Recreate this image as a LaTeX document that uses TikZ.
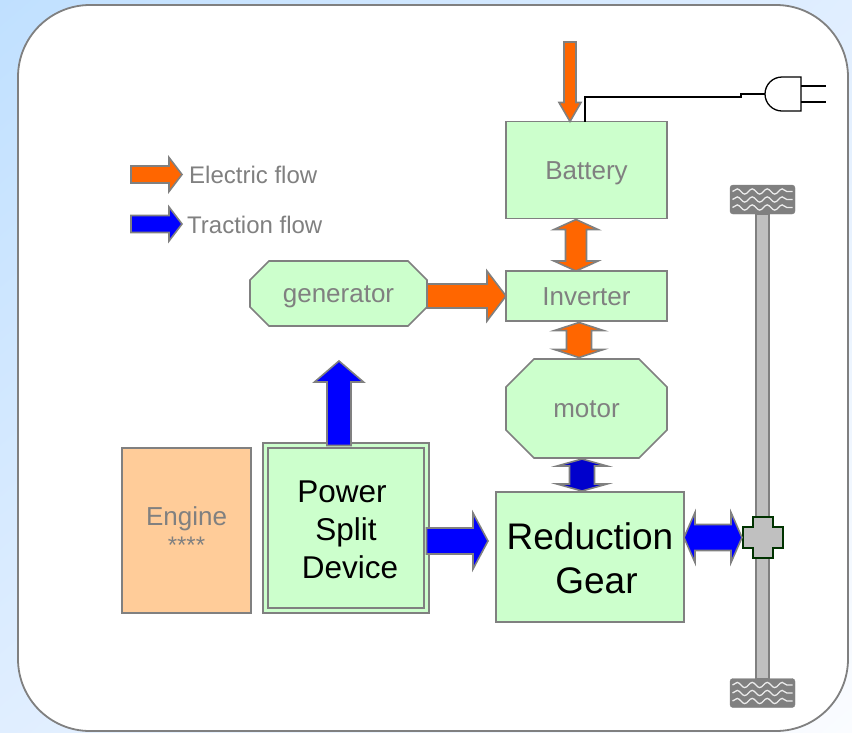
\documentclass[tikz,border=0pt]{standalone}
\usepackage{fontspec}
\setmainfont{Liberation Sans}
\usepackage{xcolor}
\usepackage{tikz}
\usetikzlibrary{calc}
\usetikzlibrary{shadings}
\usetikzlibrary{decorations.pathmorphing}

\definecolor{Mint}{HTML}{CCFFCC}
\definecolor{Peach}{HTML}{FFCC99}
\definecolor{Elec}{HTML}{FF6600}
\definecolor{Trac}{HTML}{0000FF}
\definecolor{TracDark}{HTML}{0000CC}
\definecolor{Edge}{HTML}{808080}
\definecolor{Steel}{HTML}{C0C0C0}
\definecolor{HubEdge}{HTML}{003300}
\definecolor{SkyA}{HTML}{C0E0FF}
\definecolor{SkyB}{HTML}{E0EEFF}
\definecolor{SkyC}{HTML}{FAFCFF}

\tikzset{
  textnode/.style={inner sep=0pt, outer sep=0pt, text=Edge, align=center, font=\fontsize{26}{31}\selectfont},
  boxnode/.style={textnode, draw=Edge, line width=1.6pt, fill=Mint},
  oneline/.style={text height=18pt, text depth=0pt},
  flowline/.style={draw=Edge, line width=1.6pt},
  legendtext/.style={text=Edge, anchor=west, inner sep=0pt, font=\fontsize{24}{28}\selectfont},
  cord/.style={draw=black, line width=1.3pt},
  wheelnode/.style={draw=Edge, fill=Edge, rounded corners=3pt, minimum width=65pt, minimum height=29pt, inner sep=0pt, outer sep=0pt},
  tread/.style={draw=white!85!Edge, line width=1.3pt, decorate, decoration={snake, segment length=15pt, amplitude=2.6pt}}
}

% colour, tail, tip, half shaft, half head, head length
\newcommand{\singleflow}[6]{
  \coordinate (hs) at ($(#3)!#6pt!(#2)$);
  \draw[flowline, fill=#1] ($(#2)!#4pt!90:(#3)$) -- ($(hs)!#4pt!90:(#3)$) -- ($(hs)!#5pt!90:(#3)$) -- (#3)
    -- ($(hs)!#5pt!-90:(#3)$) -- ($(hs)!#4pt!-90:(#3)$) -- ($(#2)!#4pt!-90:(#3)$) -- cycle;
}
% colour, tip, tip, half shaft, half head, head length
\newcommand{\doubleflow}[6]{
  \coordinate (ha) at ($(#2)!#6pt!(#3)$);
  \coordinate (hb) at ($(#3)!#6pt!(#2)$);
  \draw[flowline, fill=#1] (#2) -- ($(ha)!#5pt!90:(#3)$) -- ($(ha)!#4pt!90:(#3)$) -- ($(hb)!#4pt!90:(#3)$) -- ($(hb)!#5pt!90:(#3)$)
    -- (#3) -- ($(hb)!#5pt!-90:(#3)$) -- ($(hb)!#4pt!-90:(#3)$) -- ($(ha)!#4pt!-90:(#3)$) -- ($(ha)!#5pt!-90:(#3)$) -- cycle;
}
% name, centre, half width, half height, chamfer, text
\newcommand{\octnode}[6]{
  \draw[flowline, fill=Mint] ($(#2)+(-#3+#5,-#4)$) -- ($(#2)+(#3-#5,-#4)$) -- ($(#2)+(#3,-#4+#5)$) -- ($(#2)+(#3,#4-#5)$)
    -- ($(#2)+(#3-#5,#4)$) -- ($(#2)+(-#3+#5,#4)$) -- ($(#2)+(-#3,#4-#5)$) -- ($(#2)+(-#3,-#4+#5)$) -- cycle;
  \node[textnode, oneline, minimum width=2*#3 pt, minimum height=2*#4 pt] (#1) at (#2) {#6};
}

\begin{document}
\begin{tikzpicture}[x=1pt,y=-1pt]

  \useasboundingbox (0,0) rectangle (852,732);
  \shade[upper left=SkyA, upper right=SkyB, lower left=SkyB, lower right=SkyC] (0,0) rectangle (852,732);
  \draw[draw=Edge, line width=1.8pt, fill=white, rounded corners=72pt] (18,5) rectangle (848,731);

  %Box nodes
  \node[boxnode, oneline, minimum width=161pt, minimum height=97pt] (battery) at (586.5,170) {Battery};
  \node[boxnode, oneline, minimum width=161pt, minimum height=50pt] (inverter) at (586.5,296) {Inverter};
  \octnode{motor}{586.5,408.5}{80.5}{49.5}{28}{motor}
  \octnode{generator}{338.5,293.5}{88.5}{32.5}{19}{generator}
  \node[boxnode, fill=Peach, minimum width=129pt, minimum height=165pt] (engine) at (186.5,530.5) {Engine\\[-3pt]{\fontsize{24}{24}\selectfont ****}};
  \node[boxnode, double=Mint, double distance=3pt, minimum width=161pt, minimum height=165pt, text=black,
    font=\fontsize{31.5}{38}\selectfont] (psd) at (346,528) {\rule{0pt}{25.5pt}\hspace*{-8pt}Power\\Split\\\hspace*{8pt}Device};
  \node[boxnode, minimum width=188pt, minimum height=130pt, text=black,
    font=\fontsize{37}{44}\selectfont] (gear) at (590,557) {\rule{0pt}{29pt}Reduction\\\hspace*{13pt}Gear};

  %Legend
  \coordinate (elecA) at (131,174.5);
  \coordinate (elecB) at (182,174.5);
  \coordinate (tracA) at (131,224);
  \coordinate (tracB) at (182,224);
  \singleflow{Elec}{elecA}{elecB}{8.5}{17}{13}
  \singleflow{Trac}{tracA}{tracB}{8.5}{17}{13}
  \node[legendtext] (elecText) at (189,175) {Electric flow};
  \node[legendtext] (tracText) at (187,225) {Traction flow};

  %Axle and wheels
  \node[wheelnode] (wheelTop) at (762.5,199.5) {};
  \node[wheelnode] (wheelLow) at (762.5,693) {};
  \draw[flowline, fill=Steel] ([xshift=-6.5pt]wheelTop.south) rectangle ([xshift=6.5pt]wheelLow.north);
  \foreach \wheel in {wheelTop,wheelLow}
    \foreach \row in {-8,0,8}
      \draw[tread] ([xshift=-30pt,yshift=\row pt]\wheel.center) -- ([xshift=30pt,yshift=\row pt]\wheel.center);
  \coordinate (hub) at (763,537.5);
  \draw[draw=HubEdge, line width=1.6pt, fill=Steel] (hub) ++(-10,-20.5) -- ++(20,0) -- ++(0,10) -- ++(10,0) -- ++(0,21)
    -- ++(-10,0) -- ++(0,10) -- ++(-20,0) -- ++(0,-10) -- ++(-10,0) -- ++(0,-21) -- ++(10,0) -- cycle;

  %Flows
  \coordinate (chargeTop) at (570,42);
  \coordinate (chargeTip) at (chargeTop |- battery.north);
  \singleflow{Elec}{chargeTop}{chargeTip}{6}{11}{19}

  \coordinate (batLow) at ([xshift=-10.5pt,yshift=-1pt]battery.south);
  \coordinate (invTop) at ([xshift=-10.5pt]inverter.north);
  \doubleflow{Elec}{batLow}{invTop}{10.5}{22}{10}

  \coordinate (invLow) at ([xshift=-7.5pt,yshift=-1.5pt]inverter.south);
  \coordinate (motTop) at ([xshift=-7.5pt,yshift=1.5pt]motor.north);
  \doubleflow{Elec}{invLow}{motTop}{12.5}{24.5}{8}

  \coordinate (motLow) at ([xshift=-4.5pt,yshift=-1pt]motor.south);
  \coordinate (gearTop) at ([xshift=-8pt,yshift=1pt]gear.north);
  \doubleflow{TracDark}{motLow}{gearTop}{12.5}{25}{7}

  \coordinate (genOut) at (generator.east |- inverter.west);
  \singleflow{Elec}{genOut}{inverter.west}{12}{25}{19}

  \coordinate (psdTop) at ([xshift=-7pt]psd.north);
  \coordinate (psdUp) at (339,361);
  \singleflow{Trac}{psdTop}{psdUp}{12}{24.5}{21}

  \coordinate (psdRight) at ([yshift=-13pt]psd.east);
  \coordinate (gearLeft) at ([xshift=-8pt]gear.west |- psdRight);
  \singleflow{Trac}{psdRight}{gearLeft}{13}{28}{15}

  \coordinate (gearRight) at (gear.east |- hub);
  \coordinate (hubLeft) at ([xshift=-21pt]hub);
  \doubleflow{Trac}{gearRight}{hubLeft}{13}{25}{11}

  %Plug
  \coordinate (cordFoot) at ([xshift=-1.5pt]battery.north);
  \coordinate (cordBend) at (741,97);
  \coordinate (plugIn) at (765,94);
  \draw[cord] (cordFoot) |- (cordBend) -- (cordBend |- plugIn) -- (plugIn);
  \draw[cord] (801,77) -- (782,77) arc (270:90:17) -- (801,111) -- cycle;
  \draw[cord] (801,86) -- (826,86);
  \draw[cord] (801,102) -- (826,102);

\end{tikzpicture}
\end{document}
